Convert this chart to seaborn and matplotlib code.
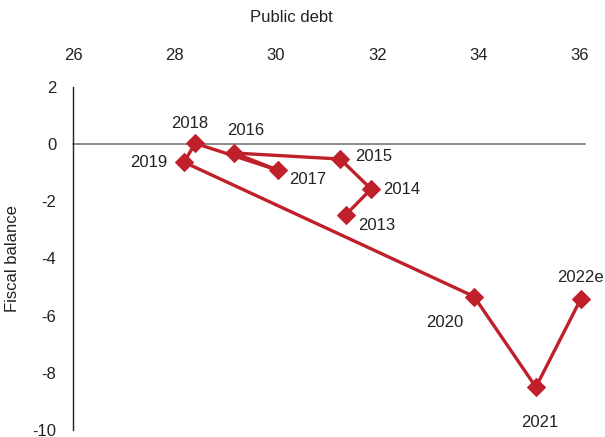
import seaborn as sns
import matplotlib
import matplotlib.pyplot as plt
import pandas as pd

matplotlib.use("Agg")

# values
years = ["2013", "2014", "2015", "2016", "2017", "2018", "2019", "2020", "2021", "2022e"]
public_debt = [31.38, 31.88, 31.27, 29.18, 30.04, 28.41, 28.19, 33.91, 35.13, 36.02]
fiscal_balance = [-2.47, -1.57, -0.52, -0.31, -0.91, 0.03, -0.63, -5.33, -8.50, -5.40]

# label offsets in pixels (dx, dy) and alignment
label_pos = {
    "2013": (12, -11, "left"),
    "2014": (12, 0, "left"),
    "2015": (15, 3, "left"),
    "2016": (11, 23, "center"),
    "2017": (11, -9, "left"),
    "2018": (-5, 20, "center"),
    "2019": (-17, 0, "right"),
    "2020": (-29, -26, "center"),
    "2021": (4, -35, "center"),
    "2022e": (-1, 21, "center"),
}

df = pd.DataFrame({"Year": years, "Public debt": public_debt, "Fiscal balance": fiscal_balance})

sns.set_style("white")
plt.rcParams["font.family"] = ["Liberation Sans", "DejaVu Sans"]
plt.rcParams["axes.unicode_minus"] = False

red = "#C0202A"
txt = "#222222"
fig = plt.figure(figsize=(6.05, 4.37), dpi=100)
ax = fig.add_axes([73 / 605, 1 - 430 / 437, (580 - 73) / 605, (430 - 87) / 437])

sns.lineplot(data=df, x="Public debt", y="Fiscal balance", sort=False, ax=ax,
             color=red, linewidth=2.4, marker="D", markersize=9,
             markeredgecolor=red, zorder=3, clip_on=False)

ax.axhline(0, color="#808080", linewidth=1.3, zorder=1, xmax=1.01, clip_on=False)

for yr, x, y in zip(years, public_debt, fiscal_balance):
    dx, dy, ha = label_pos[yr]
    ax.annotate(yr, (x, y), xytext=(dx, dy), textcoords="offset pixels",
                ha=ha, va="center", fontsize=12, color=txt, annotation_clip=False)

ax.set_xlim(26, 36)
ax.set_ylim(-10, 2)
ax.set_xticks([26, 28, 30, 32, 34, 36])
ax.set_yticks([2, 0, -2, -4, -6, -8, -10])
ax.xaxis.tick_top()
ax.xaxis.set_label_position("top")
ax.tick_params(axis="x", length=0, pad=17, labelsize=12, colors=txt)
ax.tick_params(axis="y", length=0, pad=12, labelsize=12, colors=txt)

ax.set_xlabel("Public debt", fontsize=12, color=txt)
ax.xaxis.set_label_coords(0.43, 1.19)
ax.set_ylabel("Fiscal balance", fontsize=12, color=txt)
ax.yaxis.set_label_coords(-0.105, 0.5)

for s in ["top", "right", "bottom"]:
    ax.spines[s].set_visible(False)
ax.spines["left"].set_color(txt)
ax.spines["left"].set_linewidth(1.0)

fig.savefig("out.png", dpi=100)
